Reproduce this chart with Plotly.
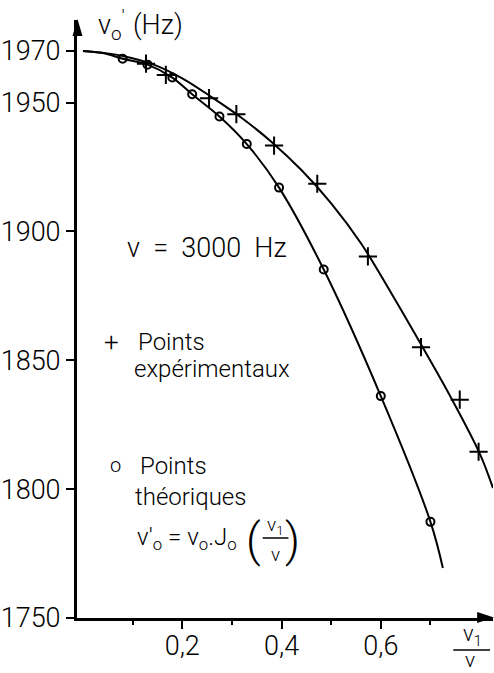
import plotly.graph_objects as go

# Frequency ν'o (Hz) versus ratio ν1/ν, for ν = 3000 Hz
theo_x = [0.08, 0.13, 0.18, 0.22, 0.275, 0.33, 0.395, 0.485, 0.60, 0.70]
theo_y = [1967.0, 1964.7, 1959.7, 1953.2, 1944.6, 1933.9, 1917.0, 1885.2, 1836.1, 1787.3]

exp_x = [0.127, 0.167, 0.254, 0.309, 0.385, 0.472, 0.574, 0.681, 0.759, 0.797]
exp_y = [1965.1, 1960.7, 1951.7, 1945.5, 1933.3, 1918.5, 1890.3, 1855.1, 1834.7, 1814.5]

# hand-drawn curves through each set of points
theo_curve_x = [0, 0.04, 0.08, 0.13, 0.18, 0.22, 0.275, 0.33, 0.395, 0.485, 0.60, 0.70, 0.725]
theo_curve_y = [1970, 1969.2, 1967.0, 1964.7, 1959.7, 1953.2, 1944.6, 1933.9, 1917.0, 1885.2,
                1836.1, 1787.3, 1769.4]
exp_curve_x = [0, 0.04, 0.08, 0.14, 0.2, 0.26, 0.32, 0.38, 0.44, 0.5, 0.56, 0.62, 0.68, 0.74,
               0.8, 0.826]
exp_curve_y = [1970, 1969.3, 1968.1, 1964.9, 1959.4, 1952.0, 1944.0, 1934.7, 1923.8, 1910.9,
               1895.4, 1876.4, 1856.5, 1836.0, 1813.5, 1800.4]

y_ticks = [1750, 1800, 1850, 1900, 1950, 1970]
x_major = [0.2, 0.4, 0.6]
x_minor = [0.1, 0.3, 0.5, 0.7]
x_range = [-0.012, 0.826]

W, H = 494, 673
ML, MR, MT, MB = 74, 1, 20, 55
PW, PH = W - ML - MR, H - MT - MB

FONT = "Roboto"
INK = "black"


def fx(p):
    return (p - ML) / PW


def fy(p):
    return (H - MB - p) / PH


fig = go.Figure()

fig.add_trace(go.Scatter(x=theo_curve_x, y=theo_curve_y, mode="lines",
                         line=dict(color=INK, width=2, shape="spline", smoothing=1.0),
                         hoverinfo="skip"))
fig.add_trace(go.Scatter(x=exp_curve_x, y=exp_curve_y, mode="lines",
                         line=dict(color=INK, width=2, shape="spline", smoothing=1.0),
                         hoverinfo="skip"))
fig.add_trace(go.Scatter(x=theo_x, y=theo_y, mode="markers", name="Points théoriques",
                         marker=dict(symbol="circle-open", size=8, color=INK,
                                     line=dict(width=2, color=INK))))
fig.add_trace(go.Scatter(x=exp_x, y=exp_y, mode="markers", name="Points expérimentaux",
                         marker=dict(symbol="cross-thin-open", size=13, color=INK,
                                     line=dict(width=2, color=INK))))

tick_font = dict(family=FONT, size=27, color=INK, weight=300)

# main x axis carries the labels close to the line
fig.update_layout(xaxis=dict(range=x_range, showline=True, linecolor=INK, linewidth=3,
                             showgrid=False, zeroline=False, ticks="", ticklen=0,
                             tickvals=x_major, tickformat=".1f", tickfont=tick_font,
                             ticklabelstandoff=2))
# companion axis draws the tick marks (long at 0,2 steps, short in between)
fig.update_layout(xaxis2=dict(range=x_range, overlaying="x", matches="x", side="bottom",
                              anchor="y", showline=False, showgrid=False, zeroline=False,
                              ticks="outside", ticklen=10, tickwidth=2, tickcolor=INK,
                              tickvals=x_major, showticklabels=False,
                              minor=dict(tickvals=x_minor, ticks="outside", ticklen=6,
                                         tickwidth=2, tickcolor=INK, showgrid=False)))
fig.add_trace(go.Scatter(x=[], y=[], xaxis="x2", yaxis="y", showlegend=False,
                         hoverinfo="skip"))

fig.update_yaxes(range=[1750, 1750 + PH / (567 / 220)], showline=True, linecolor=INK,
                 linewidth=3, showgrid=False, zeroline=False, ticks="outside", ticklen=8,
                 tickwidth=2, tickcolor=INK, tickvals=y_ticks, tickfont=tick_font,
                 ticklabelstandoff=0)

# arrow heads on both axes
shapes = [
    dict(type="path", xref="paper", yref="paper", fillcolor=INK, line=dict(width=0),
         path=f"M {fx(74.5)},{fy(19)} L {fx(69.5)},{fy(36)} L {fx(79.5)},{fy(36)} Z"),
    dict(type="path", xref="paper", yref="paper", fillcolor=INK, line=dict(width=0),
         path=f"M {fx(494)},{fy(617.5)} L {fx(477)},{fy(612)} L {fx(477)},{fy(623)} Z"),
    # fraction bars
    dict(type="line", xref="paper", yref="paper", x0=fx(453), x1=fx(490), y0=fy(650),
         y1=fy(650), line=dict(color=INK, width=1.5)),
    dict(type="line", xref="paper", yref="paper", x0=fx(261), x1=fx(287), y0=fy(538),
         y1=fy(538), line=dict(color=INK, width=1.5)),
]


def note(text, x, y, size=24, xanchor="left"):
    return dict(text=text, x=fx(x), y=fy(y), xref="paper", yref="paper", showarrow=False,
                xanchor=xanchor, yanchor="middle",
                font=dict(family=FONT, size=size, color=INK, weight=300))


annotations = [
    note("ν<sub>o</sub><sup>′</sup>", 93, 25, 27),
    note("(Hz)", 128, 25, 27),
    note("ν\u00a0\u00a0=\u00a0\u00a03000\u00a0\u00a0Hz", 122, 248, 27),
    note("+", 109, 342, 26, "center"),
    note("Points", 133, 342, 24),
    note("expérimentaux", 129, 369, 24),
    note("o", 113, 465, 20, "center"),
    note("Points", 135, 466, 24),
    note("théoriques", 130, 497, 24),
    note("ν′<sub>o</sub>\u00a0= ν<sub>o</sub>.J<sub>o</sub>", 132, 538, 24),
    note("(", 252, 540, 46, "center"),
    note("ν<sub>1</sub>", 274, 525, 19, "center"),
    note("ν", 274, 554, 19, "center"),
    note(")", 291, 540, 46, "center"),
    note("ν<sub>1</sub>", 472, 635, 22, "center"),
    note("ν", 470, 660, 21, "center"),
]

fig.update_layout(width=W, height=H, margin=dict(l=ML, r=MR, t=MT, b=MB),
                  paper_bgcolor="white", plot_bgcolor="white", showlegend=False,
                  separators=", ", shapes=shapes, annotations=annotations,
                  font=dict(family=FONT, color=INK))

fig.write_html("out.html")
